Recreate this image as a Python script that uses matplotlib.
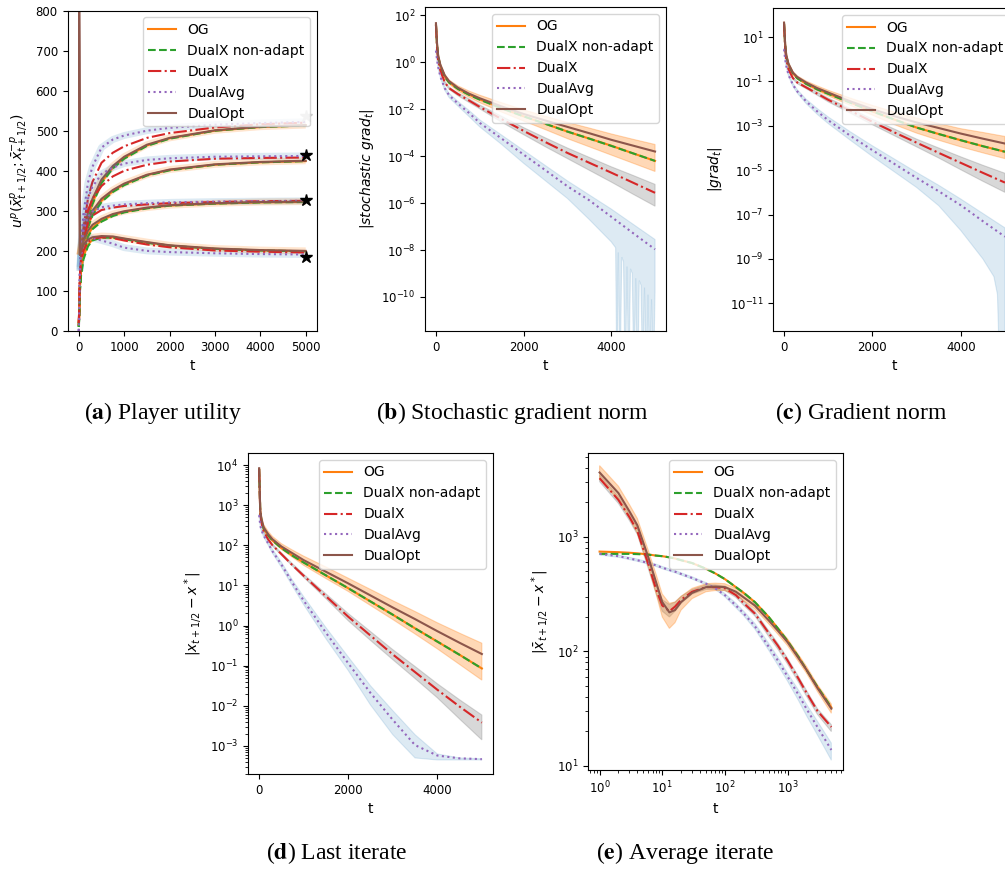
import numpy as np
import matplotlib
matplotlib.use('Agg')
from matplotlib import pyplot as plt
from matplotlib.ticker import FixedLocator, NullLocator

# ---- legend / styles ----
methods = ['OG', 'DualX non-adapt', 'DualX', 'DualAvg', 'DualOpt']
colors = ['C1', 'C2', 'C3', 'C4', 'C5']
styles = ['-', '--', '-.', ':', '-']

# ---- (a) player utility, 4 players (top to bottom) ----
t_a = [0, 25, 50, 100, 200, 300, 500, 750, 1000, 1500, 2000, 3000, 4000, 5000]
a_og = [[15, 120, 165, 215, 280, 320, 372, 408, 432, 463, 481, 500, 509, 513],
        [15, 120, 160, 205, 262, 292, 325, 349, 366, 389, 402, 415, 421, 424],
        [15, 115, 155, 195, 240, 258, 276, 289, 297, 307, 313, 318, 321, 322],
        [15, 110, 150, 185, 215, 228, 234, 234, 230, 221, 213, 205, 201, 199]]
a_dxna = [[10, 110, 155, 208, 275, 316, 369, 406, 430, 462, 480, 500, 509, 513],
          [10, 110, 150, 198, 257, 288, 322, 347, 364, 388, 401, 415, 421, 424],
          [10, 105, 145, 188, 235, 254, 273, 287, 296, 306, 313, 318, 321, 322],
          [10, 100, 140, 178, 211, 226, 233, 233, 229, 220, 213, 205, 201, 199]]
a_dx = [[20, 140, 190, 255, 330, 372, 420, 445, 461, 482, 494, 508, 516, 520],
        [20, 135, 180, 240, 300, 330, 362, 386, 400, 415, 423, 430, 432, 433],
        [20, 130, 175, 225, 270, 288, 302, 308, 312, 316, 319, 322, 324, 325],
        [20, 130, 170, 200, 222, 230, 234, 232, 226, 216, 209, 201, 198, 196]]
a_avg = [[0, 160, 220, 290, 370, 410, 458, 478, 488, 500, 507, 515, 519, 522],
         [0, 155, 210, 270, 330, 360, 392, 408, 418, 427, 431, 435, 436, 437],
         [0, 150, 200, 250, 285, 298, 309, 313, 316, 319, 321, 323, 324, 325],
         [0, 150, 190, 215, 229, 232, 226, 218, 208, 200, 197, 194, 192, 191]]
a_opt = [[1000, 190, 215, 245, 295, 330, 378, 412, 435, 465, 482, 501, 510, 514],
         [1000, 190, 210, 235, 275, 300, 330, 352, 368, 390, 403, 416, 422, 425],
         [1000, 190, 205, 225, 250, 265, 280, 292, 299, 308, 314, 319, 322, 323],
         [1000, 190, 200, 215, 228, 234, 237, 236, 231, 222, 214, 206, 202, 200]]
a_star = [537, 440, 326, 185]
star_colors = ['#c8c8c8', 'k', 'k', 'k']

# ---- (b)-(d): values given as log10 exponents ----
t_lin = [0, 25, 50, 100, 200, 300, 500, 750, 1000, 1500, 2000, 2500, 3000, 3500, 4000, 4500, 5000]

# (b) stochastic gradient norm
b_og = [1.6, 0.75, 0.25, -0.15, -0.6, -0.85, -1.12, -1.37, -1.58, -1.95, -2.3, -2.62, -2.95, -3.25, -3.55, -3.88, -4.2]
b_dxna = [1.6, 0.74, 0.24, -0.16, -0.61, -0.86, -1.13, -1.38, -1.59, -1.96, -2.3, -2.62, -2.95, -3.25, -3.56, -3.88, -4.2]
b_dx = [1.6, 0.6, 0.1, -0.35, -0.85, -1.1, -1.35, -1.62, -1.9, -2.42, -2.92, -3.4, -3.86, -4.28, -4.7, -5.13, -5.56]
b_avg = [0.5, 0.1, -0.2, -0.6, -1.1, -1.4, -1.75, -2.15, -2.58, -3.25, -3.93, -4.6, -5.28, -5.88, -6.58, -7.28, -7.97]
b_opt = [1.67, 0.8, 0.3, -0.1, -0.55, -0.8, -1.08, -1.33, -1.53, -1.88, -2.2, -2.48, -2.75, -3.02, -3.3, -3.55, -3.8]
b_opt_hi = [1.7, 0.85, 0.35, -0.05, -0.5, -0.75, -1.0, -1.22, -1.4, -1.72, -2.02, -2.3, -2.56, -2.8, -3.05, -3.28, -3.5]
b_opt_lo = [1.55, 0.65, 0.15, -0.25, -0.68, -0.93, -1.22, -1.48, -1.72, -2.12, -2.5, -2.87, -3.25, -3.6, -3.95, -4.3, -4.65]
b_dx_hi = [1.62, 0.65, 0.15, -0.3, -0.8, -1.05, -1.3, -1.55, -1.82, -2.3, -2.78, -3.22, -3.65, -4.05, -4.45, -4.82, -5.2]
b_dx_lo = [1.58, 0.55, 0.05, -0.4, -0.9, -1.15, -1.42, -1.7, -1.98, -2.55, -3.08, -3.6, -4.1, -4.6, -5.1, -5.62, -6.13]
b_avg_hi = [0.55, 0.15, -0.15, -0.55, -1.03, -1.32, -1.66, -2.04, -2.45, -3.1, -3.75, -4.4, -5.05, -5.65, -6.25, -6.9, -7.55]
b_avg_lo_t = [0, 25, 50, 100, 200, 300, 500, 750, 1000, 1500, 2000, 2500, 3000, 3500, 4000, 4100,
              4130, 4160, 4200, 4240, 4280, 4320, 4360, 4400, 4440, 4480, 4520, 4560, 4600, 4640,
              4680, 4720, 4760, 4800, 4840, 4880, 4920, 4960, 5000]
b_avg_lo = [0.45, 0.05, -0.25, -0.66, -1.18, -1.5, -1.86, -2.3, -2.75, -3.5, -4.3, -5.05, -5.8, -6.7, -7.65, -7.9,
            -14, -8.1, -14, -8.3, -8.5, -14, -8.7, -14, -8.8, -9.0, -14, -9.2, -14, -9.3,
            -9.5, -14, -9.6, -14, -9.9, -14, -10.1, -14, -9.8]

# (c) gradient norm
c_og = [1.6, 0.65, 0.15, -0.25, -0.63, -0.85, -1.1, -1.35, -1.55, -1.95, -2.35, -2.72, -3.08, -3.37, -3.65, -3.92, -4.17]
c_dxna = [1.6, 0.64, 0.14, -0.26, -0.64, -0.86, -1.11, -1.36, -1.56, -1.96, -2.35, -2.72, -3.08, -3.37, -3.65, -3.92, -4.17]
c_dx = [1.6, 0.5, 0.0, -0.45, -0.85, -1.05, -1.27, -1.55, -1.83, -2.32, -2.82, -3.3, -3.76, -4.22, -4.67, -5.12, -5.56]
c_avg = [0.45, 0.0, -0.3, -0.7, -1.15, -1.45, -1.9, -2.35, -2.75, -3.45, -4.1, -4.72, -5.35, -5.95, -6.58, -7.3, -8.0]
c_opt = [1.65, 0.7, 0.2, -0.2, -0.6, -0.8, -1.05, -1.3, -1.5, -1.9, -2.25, -2.57, -2.85, -3.1, -3.35, -3.58, -3.8]
c_opt_hi = [1.7, 0.75, 0.25, -0.15, -0.55, -0.75, -0.98, -1.2, -1.4, -1.75, -2.08, -2.38, -2.65, -2.9, -3.13, -3.3, -3.48]
c_opt_lo = [1.55, 0.6, 0.1, -0.3, -0.68, -0.9, -1.16, -1.42, -1.65, -2.08, -2.52, -2.95, -3.33, -3.65, -3.95, -4.22, -4.48]
c_dx_hi = [1.62, 0.55, 0.05, -0.4, -0.8, -1.0, -1.22, -1.48, -1.75, -2.22, -2.7, -3.15, -3.6, -4.0, -4.4, -4.78, -5.14]
c_dx_lo = [1.58, 0.45, -0.05, -0.5, -0.9, -1.1, -1.33, -1.62, -1.92, -2.43, -2.95, -3.45, -3.95, -4.45, -4.98, -5.5, -6.0]
c_avg_hi = [0.5, 0.05, -0.25, -0.64, -1.08, -1.37, -1.8, -2.22, -2.6, -3.27, -3.9, -4.5, -5.1, -5.68, -6.3, -6.95, -7.6]
c_avg_lo_t = [0, 25, 50, 100, 200, 300, 500, 750, 1000, 1500, 2000, 2500, 3000, 3500, 4000, 4500,
              4750, 4830, 4865, 4900, 5000]
c_avg_lo = [0.4, -0.05, -0.35, -0.76, -1.22, -1.53, -2.0, -2.48, -2.9, -3.65, -4.38, -5.08, -5.78, -6.6, -7.72, -9.0,
            -9.8, -10.6, -13, -15, -15]

# (d) last iterate distance
d_og = [3.9, 2.85, 2.63, 2.42, 2.25, 2.12, 1.93, 1.74, 1.57, 1.25, 0.93, 0.6, 0.27, -0.07, -0.4, -0.73, -1.07]
d_dxna = [3.9, 2.85, 2.63, 2.42, 2.25, 2.12, 1.93, 1.74, 1.57, 1.25, 0.93, 0.6, 0.27, -0.07, -0.4, -0.73, -1.07]
d_dx = [3.9, 2.8, 2.58, 2.35, 2.15, 2.0, 1.78, 1.5, 1.24, 0.73, 0.22, -0.25, -0.72, -1.16, -1.6, -2.02, -2.42]
d_avg = [2.75, 2.5, 2.38, 2.25, 2.05, 1.85, 1.52, 1.06, 0.62, -0.18, -0.94, -1.68, -2.35, -2.98, -3.24, -3.31, -3.33]
d_opt = [3.92, 2.88, 2.67, 2.45, 2.28, 2.15, 1.97, 1.8, 1.63, 1.34, 1.05, 0.75, 0.45, 0.16, -0.14, -0.43, -0.71]
d_opt_hi = [3.93, 2.95, 2.74, 2.52, 2.35, 2.22, 2.04, 1.88, 1.73, 1.46, 1.18, 0.9, 0.62, 0.35, 0.07, -0.19, -0.44]
d_opt_lo = [3.88, 2.82, 2.6, 2.39, 2.22, 2.09, 1.9, 1.7, 1.5, 1.17, 0.85, 0.5, 0.15, -0.21, -0.58, -0.97, -1.36]
d_dx_hi = [3.91, 2.82, 2.6, 2.38, 2.18, 2.03, 1.81, 1.54, 1.28, 0.79, 0.3, -0.15, -0.6, -1.02, -1.45, -1.85, -2.23]
d_dx_lo = [3.89, 2.78, 2.56, 2.33, 2.13, 1.98, 1.75, 1.48, 1.2, 0.67, 0.12, -0.37, -0.85, -1.32, -1.8, -2.33, -2.85]
d_avg_hi = [2.78, 2.53, 2.42, 2.29, 2.09, 1.9, 1.58, 1.13, 0.72, -0.05, -0.78, -1.5, -2.12, -2.72, -3.2, -3.3, -3.32]
d_avg_lo = [2.72, 2.47, 2.35, 2.21, 2.01, 1.8, 1.45, 0.98, 0.52, -0.33, -1.12, -1.98, -2.72, -3.3, -3.35, -3.35, -3.35]

# (e) average iterate distance (log-log)
t_e = [1, 2, 3, 4, 6, 8, 10, 13, 16, 20, 30, 50, 70, 100, 150, 200, 300, 500, 700, 1000, 1500, 2000, 3000, 5000]
e_og = [2.87, 2.865, 2.86, 2.855, 2.845, 2.835, 2.83, 2.82, 2.81, 2.795, 2.77, 2.72, 2.68, 2.63, 2.56, 2.51, 2.43, 2.3, 2.2, 2.09, 1.95, 1.84, 1.69, 1.51]
e_dxna = [2.85, 2.85, 2.85, 2.848, 2.843, 2.835, 2.83, 2.82, 2.81, 2.795, 2.77, 2.72, 2.68, 2.63, 2.56, 2.51, 2.43, 2.3, 2.2, 2.09, 1.95, 1.84, 1.69, 1.51]
e_dx = [3.51, 3.32, 3.17, 3.05, 2.76, 2.54, 2.4, 2.35, 2.39, 2.45, 2.52, 2.56, 2.56, 2.55, 2.49, 2.42, 2.33, 2.16, 2.05, 1.92, 1.76, 1.64, 1.48, 1.34]
e_avg = [2.85, 2.83, 2.81, 2.795, 2.77, 2.75, 2.73, 2.71, 2.695, 2.675, 2.64, 2.59, 2.55, 2.49, 2.4, 2.33, 2.22, 2.04, 1.92, 1.78, 1.62, 1.5, 1.34, 1.14]
e_opt = [3.56, 3.38, 3.22, 3.1, 2.82, 2.6, 2.43, 2.34, 2.36, 2.43, 2.51, 2.56, 2.565, 2.56, 2.52, 2.47, 2.4, 2.27, 2.18, 2.08, 1.94, 1.84, 1.68, 1.5]
e_opt_hi = [3.62, 3.44, 3.28, 3.16, 2.88, 2.67, 2.5, 2.42, 2.43, 2.48, 2.55, 2.59, 2.595, 2.59, 2.55, 2.5, 2.43, 2.3, 2.21, 2.11, 1.97, 1.87, 1.71, 1.54]
e_opt_lo = [3.5, 3.32, 3.16, 3.03, 2.74, 2.5, 2.3, 2.2, 2.25, 2.36, 2.46, 2.52, 2.53, 2.53, 2.49, 2.44, 2.37, 2.24, 2.15, 2.05, 1.91, 1.81, 1.65, 1.46]
e_dx_hi = [3.54, 3.35, 3.2, 3.08, 2.8, 2.58, 2.45, 2.41, 2.43, 2.48, 2.54, 2.58, 2.58, 2.57, 2.51, 2.44, 2.35, 2.18, 2.07, 1.94, 1.78, 1.66, 1.5, 1.36]
e_dx_lo = [3.48, 3.29, 3.14, 3.02, 2.72, 2.5, 2.35, 2.3, 2.35, 2.42, 2.5, 2.54, 2.54, 2.53, 2.47, 2.4, 2.31, 2.13, 2.02, 1.89, 1.73, 1.61, 1.45, 1.3]
e_avg_hi = [2.86, 2.84, 2.82, 2.805, 2.78, 2.76, 2.74, 2.72, 2.705, 2.685, 2.65, 2.6, 2.56, 2.505, 2.42, 2.35, 2.245, 2.07, 1.95, 1.81, 1.66, 1.54, 1.39, 1.2]
e_avg_lo = [2.84, 2.82, 2.8, 2.785, 2.76, 2.74, 2.72, 2.7, 2.685, 2.665, 2.63, 2.58, 2.54, 2.475, 2.38, 2.31, 2.195, 2.01, 1.88, 1.74, 1.57, 1.44, 1.27, 1.05]

W, H = 1005, 873
TICK_FS = 8.5
LEG_FS = 10
LAB_FS = 10


def ex(a):
    # exponents -> values
    return np.power(10.0, np.asarray(a, dtype=float))


def add_axes_px(fig, left, top, right, bottom):
    return fig.add_axes([left / W, 1 - bottom / H, (right - left) / W, (bottom - top) / H])


def draw_methods(ax, t, curves):
    for vals, c, ls, lab in zip(curves, colors, styles, methods):
        ax.plot(t, ex(vals), color=c, ls=ls, lw=1.5, label=lab)


def draw_band(ax, t, hi, lo, color, alpha, t_lo=None):
    if t_lo is None:
        t_lo = t
    xs = np.concatenate([np.asarray(t, float), np.asarray(t_lo, float)[::-1]])
    ys = np.concatenate([ex(hi), ex(lo)[::-1]])
    ax.fill(xs, ys, color=color, alpha=alpha, lw=0.8)


def finish(ax, ylabel):
    ax.set_xlabel('t', fontsize=LAB_FS)
    ax.set_ylabel(ylabel, fontsize=LAB_FS)
    ax.tick_params(labelsize=TICK_FS)
    ax.legend(loc='upper right', fontsize=LEG_FS)


def main():
    fig = plt.figure(figsize=(W / 100, H / 100), dpi=100)

    # (a) player utility
    ax = add_axes_px(fig, 67.5, 10.5, 317, 331)
    for g in range(4):
        curves = [a_og[g], a_dxna[g], a_dx[g], a_avg[g], a_opt[g]]
        # faint confidence halos (not on the first step, where the curves shoot in)
        ax.plot(t_a[1:], a_opt[g][1:], color='C1', lw=5, alpha=0.2, solid_capstyle='butt')
        ax.plot(t_a[1:], a_avg[g][1:], color='C0', lw=5, alpha=0.15, solid_capstyle='butt')
        for vals, c, ls, lab in zip(curves, colors, styles, methods):
            ax.plot(t_a, vals, color=c, ls=ls, lw=1.5, label=lab if g == 0 else None)
        ax.plot(5000, a_star[g], marker='*', color=star_colors[g], ms=9, ls='none')
    ax.set_xlim(-250, 5250)
    ax.set_ylim(0, 800)
    ax.set_xticks([0, 1000, 2000, 3000, 4000, 5000])
    finish(ax, r'$u^p(\bar{x}^p_{t+1/2}; \bar{x}^{-p}_{t+1/2})$')

    # (b) stochastic gradient norm
    ax = add_axes_px(fig, 425, 7, 666, 331)
    ax.set_yscale('log')
    draw_band(ax, t_lin, b_avg_hi, b_avg_lo, 'C0', 0.15, t_lo=b_avg_lo_t)
    draw_band(ax, t_lin, b_dx_hi, b_dx_lo, 'C7', 0.3)
    draw_band(ax, t_lin, b_opt_hi, b_opt_lo, 'C1', 0.3)
    draw_methods(ax, t_lin, [b_og, b_dxna, b_dx, b_avg, b_opt])
    ax.set_xlim(-250, 5250)
    ax.set_ylim(10 ** -11.45, 10 ** 2.36)
    ax.yaxis.set_major_locator(FixedLocator([1e2, 1, 1e-2, 1e-4, 1e-6, 1e-8, 1e-10]))
    ax.yaxis.set_minor_locator(NullLocator())
    ax.set_xticks([0, 2000, 4000])
    finish(ax, r'$|stochastic\ grad_t|$')

    # (c) gradient norm (runs past the right edge, as in the source)
    ax = add_axes_px(fig, 773, 8, 1016, 331)
    ax.set_yscale('log')
    draw_band(ax, t_lin, c_avg_hi, c_avg_lo, 'C0', 0.15, t_lo=c_avg_lo_t)
    draw_band(ax, t_lin, c_dx_hi, c_dx_lo, 'C7', 0.3)
    draw_band(ax, t_lin, c_opt_hi, c_opt_lo, 'C1', 0.3)
    draw_methods(ax, t_lin, [c_og, c_dxna, c_dx, c_avg, c_opt])
    ax.set_xlim(-250, 5250)
    ax.set_ylim(10 ** -12.25, 10 ** 2.31)
    ax.yaxis.set_major_locator(FixedLocator([1e1, 1e-1, 1e-3, 1e-5, 1e-7, 1e-9, 1e-11]))
    ax.yaxis.set_minor_locator(NullLocator())
    ax.set_xticks([0, 2000, 4000])
    finish(ax, r'$|grad_t|$')

    # (d) last iterate
    ax = add_axes_px(fig, 248, 453, 493, 774)
    ax.set_yscale('log')
    draw_band(ax, t_lin, d_avg_hi, d_avg_lo, 'C0', 0.15)
    draw_band(ax, t_lin, d_dx_hi, d_dx_lo, 'C7', 0.3)
    draw_band(ax, t_lin, d_opt_hi, d_opt_lo, 'C1', 0.3)
    draw_methods(ax, t_lin, [d_og, d_dxna, d_dx, d_avg, d_opt])
    ax.set_xlim(-250, 5250)
    ax.set_ylim(10 ** -3.7, 10 ** 4.3)
    ax.set_xticks([0, 2000, 4000])
    finish(ax, r'$|x_{t+1/2} - x^*|$')

    # (e) average iterate
    ax = add_axes_px(fig, 588, 453, 843, 770)
    ax.set_xscale('log')
    ax.set_yscale('log')
    draw_band(ax, t_e, e_avg_hi, e_avg_lo, 'C0', 0.15)
    draw_band(ax, t_e, e_dx_hi, e_dx_lo, 'C7', 0.3)
    draw_band(ax, t_e, e_opt_hi, e_opt_lo, 'C1', 0.3)
    draw_methods(ax, t_e, [e_og, e_dxna, e_dx, e_avg, e_opt])
    ax.set_xlim(10 ** -0.185, 10 ** 3.885)
    ax.set_ylim(10 ** 0.965, 10 ** 3.73)
    finish(ax, r'$|\bar{x}_{t+1/2} - x^*|$')

    # sub-captions: bold letter, regular text
    caps = [(163, 413, 'a', 'Player utility'),
            (512, 413, 'b', 'Stochastic gradient norm'),
            (861, 413, 'c', 'Gradient norm'),
            (337, 853, 'd', 'Last iterate'),
            (685, 853, 'e', 'Average iterate')]
    for x, y, letter, text in caps:
        fig.text(x / W, 1 - y / H, '(' + r'$\mathbf{%s}$' % letter + ') ' + text,
                 ha='center', va='center', fontsize=17, family='Liberation Serif',
                 math_fontfamily='stix')

    fig.savefig('out.png', dpi=100)


if __name__ == '__main__':
    main()
